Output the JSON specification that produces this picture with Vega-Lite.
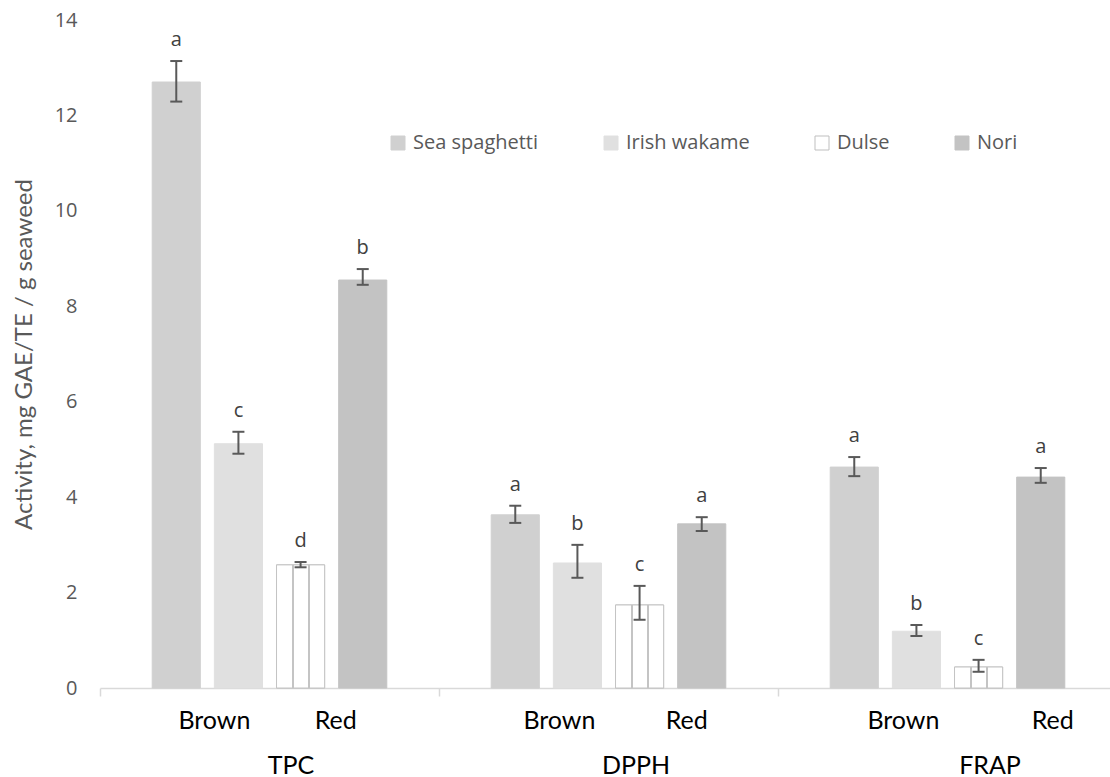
{
  "$schema": "https://vega.github.io/schema/vega-lite/v6.json",
  "width": 1010,
  "height": 668,
  "autosize": {"type": "none"},
  "padding": {"left": 100, "top": 20, "right": 0, "bottom": 89},
  "background": "white",
  "config": {"view": {"stroke": null}, "font": "Open Sans"},
  "datasets": {
    "bars": [
      {"test": "TPC", "species": "Sea spaghetti", "value": 12.70, "low": 12.29, "high": 13.14, "letter": "a"},
      {"test": "TPC", "species": "Irish wakame", "value": 5.12, "low": 4.91, "high": 5.37, "letter": "c"},
      {"test": "TPC", "species": "Dulse", "value": 2.58, "low": 2.53, "high": 2.64, "letter": "d"},
      {"test": "TPC", "species": "Nori", "value": 8.55, "low": 8.45, "high": 8.78, "letter": "b"},
      {"test": "DPPH", "species": "Sea spaghetti", "value": 3.63, "low": 3.46, "high": 3.82, "letter": "a"},
      {"test": "DPPH", "species": "Irish wakame", "value": 2.62, "low": 2.31, "high": 3.0, "letter": "b"},
      {"test": "DPPH", "species": "Dulse", "value": 1.74, "low": 1.43, "high": 2.14, "letter": "c"},
      {"test": "DPPH", "species": "Nori", "value": 3.44, "low": 3.29, "high": 3.58, "letter": "a"},
      {"test": "FRAP", "species": "Sea spaghetti", "value": 4.63, "low": 4.44, "high": 4.84, "letter": "a"},
      {"test": "FRAP", "species": "Irish wakame", "value": 1.19, "low": 1.09, "high": 1.32, "letter": "b"},
      {"test": "FRAP", "species": "Dulse", "value": 0.44, "low": 0.34, "high": 0.59, "letter": "c"},
      {"test": "FRAP", "species": "Nori", "value": 4.42, "low": 4.30, "high": 4.61, "letter": "a"}
    ],
    "classes": [
      {"test": "TPC", "class": "Brown", "anchor": "Irish wakame"},
      {"test": "TPC", "class": "Red", "anchor": "Nori"},
      {"test": "DPPH", "class": "Brown", "anchor": "Irish wakame"},
      {"test": "DPPH", "class": "Red", "anchor": "Nori"},
      {"test": "FRAP", "class": "Brown", "anchor": "Irish wakame"},
      {"test": "FRAP", "class": "Red", "anchor": "Nori"}
    ]
  },
  "layer": [
    {
      "data": {"name": "bars"},
      "mark": {"type": "bar", "strokeWidth": 1},
      "encoding": {
        "x": {
          "field": "test", "type": "nominal",
          "scale": {"domain": ["TPC", "DPPH", "FRAP"], "range": [0, 1017], "paddingInner": 0, "paddingOuter": 0},
          "axis": {
            "title": null, "domainColor": "#d9d9d9", "domainWidth": 1.5,
            "tickColor": "#d9d9d9", "tickBand": "extent", "tickSize": 8, "tickWidth": 1.5,
            "labelFont": "Lato", "labelFontSize": 25, "labelColor": "#000000",
            "labelPadding": 69, "labelBaseline": "middle", "labelAngle": 0,
            "labelOffset": {"condition": [{"test": "datum.label === 'TPC'", "value": 21}, {"test": "datum.label === 'DPPH'", "value": 27}], "value": 42}
          }
        },
        "xOffset": {
          "field": "species", "type": "nominal",
          "scale": {"domain": ["Sea spaghetti", "Irish wakame", "Dulse", "Nori"], "paddingInner": 0.226, "paddingOuter": 0.84}
        },
        "y": {
          "field": "value", "type": "quantitative",
          "scale": {"domain": [0, 14], "nice": false},
          "axis": {
            "values": [0, 2, 4, 6, 8, 10, 12, 14],
            "domain": false, "ticks": false, "grid": false,
            "labelFont": "Open Sans", "labelFontSize": 20, "labelColor": "#595959", "labelPadding": 23,
            "title": "Activity, mg GAE/TE / g seaweed",
            "titleFont": "Lato", "titleFontSize": 24, "titleFontWeight": "normal", "titleColor": "#595959",
            "titleX": -76, "titleY": 334, "titleAngle": -90, "titleAlign": "center", "titleBaseline": "middle"
          }
        },
        "fill": {
          "field": "species", "type": "nominal",
          "scale": {"domain": ["Sea spaghetti", "Irish wakame", "Dulse", "Nori"], "range": ["#d0d0d0", "#e0e0e0", "#ffffff", "#c3c3c3"]},
          "legend": {
            "title": null, "orient": "none", "legendX": 288, "legendY": 113, "direction": "horizontal", "columns": 4,
            "columnPadding": 62, "padding": 0, "symbolType": "square", "symbolSize": 196, "symbolStrokeWidth": 1,
            "labelFont": "Open Sans", "labelFontSize": 20, "labelColor": "#595959", "labelOffset": 5
          }
        },
        "stroke": {
          "field": "species", "type": "nominal",
          "scale": {"domain": ["Sea spaghetti", "Irish wakame", "Dulse", "Nori"], "range": ["#d0d0d0", "#e0e0e0", "#bfbfbf", "#c3c3c3"]},
          "legend": {
            "title": null, "orient": "none", "legendX": 288, "legendY": 113, "direction": "horizontal", "columns": 4,
            "columnPadding": 62, "padding": 0, "symbolType": "square", "symbolSize": 196, "symbolStrokeWidth": 1,
            "labelFont": "Open Sans", "labelFontSize": 20, "labelColor": "#595959", "labelOffset": 5
          }
        }
      }
    },
    {
      "data": {"name": "bars"},
      "transform": [{"filter": "datum.species === 'Dulse'"}],
      "mark": {
        "type": "bar", "stroke": "#c4c4c4", "strokeWidth": 1,
        "fill": {
          "gradient": "linear", "x1": 0, "y1": 0, "x2": 1, "y2": 0,
          "stops": [
            {"offset": 0, "color": "#ffffff"},
            {"offset": 0.33, "color": "#ffffff"},
            {"offset": 0.33, "color": "#c4c4c4"},
            {"offset": 0.36, "color": "#c4c4c4"},
            {"offset": 0.36, "color": "#ffffff"},
            {"offset": 0.66, "color": "#ffffff"},
            {"offset": 0.66, "color": "#c4c4c4"},
            {"offset": 0.69, "color": "#c4c4c4"},
            {"offset": 0.69, "color": "#ffffff"},
            {"offset": 1, "color": "#ffffff"}
          ]
        }
      },
      "encoding": {
        "x": {"field": "test", "type": "nominal"},
        "xOffset": {"field": "species", "type": "nominal"},
        "y": {"field": "value", "type": "quantitative"}
      }
    },
    {
      "data": {"name": "bars"},
      "mark": {"type": "rule", "color": "#595959", "strokeWidth": 2},
      "encoding": {
        "x": {"field": "test", "type": "nominal"},
        "xOffset": {"field": "species", "type": "nominal"},
        "y": {"field": "low", "type": "quantitative"},
        "y2": {"field": "high"}
      }
    },
    {
      "data": {"name": "bars"},
      "mark": {"type": "tick", "color": "#595959", "size": 12, "thickness": 2, "opacity": 1},
      "encoding": {
        "x": {"field": "test", "type": "nominal"},
        "xOffset": {"field": "species", "type": "nominal"},
        "y": {"field": "low", "type": "quantitative"}
      }
    },
    {
      "data": {"name": "bars"},
      "mark": {"type": "tick", "color": "#595959", "size": 12, "thickness": 2, "opacity": 1},
      "encoding": {
        "x": {"field": "test", "type": "nominal"},
        "xOffset": {"field": "species", "type": "nominal"},
        "y": {"field": "high", "type": "quantitative"}
      }
    },
    {
      "data": {"name": "bars"},
      "mark": {"type": "text", "font": "Open Sans", "fontSize": 20, "color": "#404040", "baseline": "alphabetic", "dy": -15},
      "encoding": {
        "x": {"field": "test", "type": "nominal"},
        "xOffset": {"field": "species", "type": "nominal"},
        "y": {"field": "high", "type": "quantitative"},
        "text": {"field": "letter"}
      }
    },
    {
      "data": {"name": "classes"},
      "mark": {
        "type": "text", "font": "Lato", "fontSize": 25, "color": "#000000", "baseline": "middle", "dy": 33,
        "dx": {"expr": "datum.class === 'Brown' ? (datum.test === 'TPC' ? -24 : datum.test === 'DPPH' ? -18 : -13) : (datum.test === 'TPC' ? -27 : datum.test === 'DPPH' ? -15 : 12)"}
      },
      "encoding": {
        "x": {"field": "test", "type": "nominal"},
        "xOffset": {"field": "anchor", "type": "nominal"},
        "y": {"datum": 0, "type": "quantitative"},
        "text": {"field": "class"}
      }
    }
  ]
}
